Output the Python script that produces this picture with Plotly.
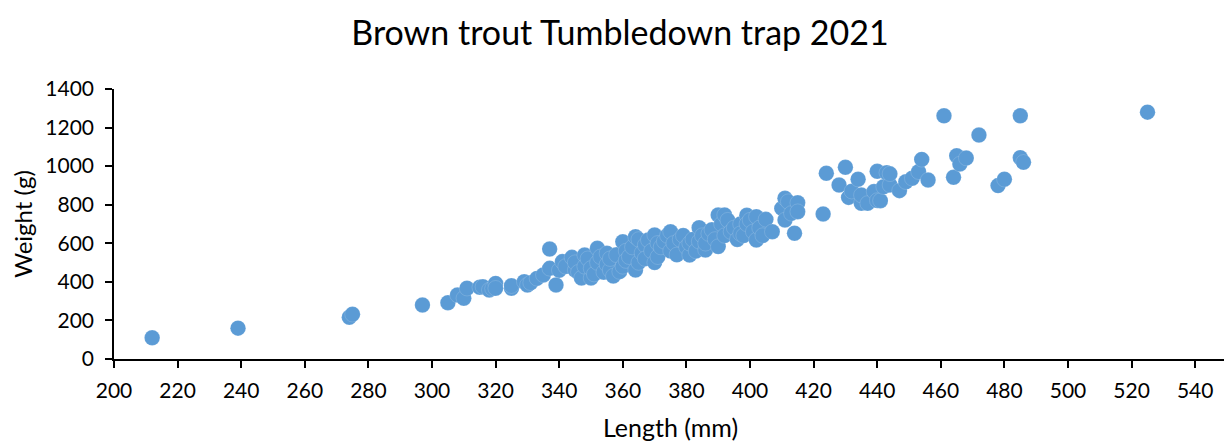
import plotly.graph_objects as go

length_mm = [
    212, 239, 274, 275, 297,
    305, 308, 310, 311, 315, 316, 318, 319, 320, 320, 325, 325, 329, 330, 331,
    333, 335, 337, 337, 339, 340, 341, 342, 344, 345, 345, 346, 347, 348, 348,
    349, 350, 350, 351, 352, 352, 353, 354, 355, 355, 356, 356, 357, 358, 359,
    360, 360, 361, 361, 362, 363, 364, 364, 365, 365, 366, 367, 367, 368, 369,
    370, 370, 371, 371, 372, 373, 374, 375, 375, 376, 377, 378, 379, 380, 381,
    381, 382, 383, 384, 384, 385, 386, 386, 387, 388, 389, 390, 390, 391, 392,
    392, 393, 394, 395, 396, 397, 397, 398, 399, 399, 400, 401, 402, 402, 403,
    404, 405, 407, 410, 411, 411, 412, 413, 414, 415, 415,
    423, 424, 428, 430, 431, 432, 434, 435, 435, 437, 439, 440, 440, 441, 442,
    443, 444, 444, 447, 449, 451, 453, 454, 456, 461, 464, 465, 466, 468, 472,
    478, 480, 485, 485, 486, 525,
]

weight_g = [
    110, 160, 216, 232, 280,
    292, 332, 315, 367, 372, 375, 358, 365, 392, 367, 367, 380, 401, 384, 395,
    418, 436, 570, 470, 384, 460, 505, 480, 527, 461, 500, 450, 420, 539, 480,
    520, 420, 470, 440, 574, 500, 530, 450, 548, 490, 461, 520, 430, 540, 453,
    608, 480, 560, 510, 530, 580, 634, 461, 620, 500, 550, 590, 520, 617, 560,
    643, 500, 600, 530, 580, 610, 640, 660, 560, 600, 540, 620, 640, 580, 539,
    600, 620, 560, 681, 610, 640, 565, 600, 650, 670, 620, 747, 583, 700, 747,
    640, 720, 660, 680, 620, 700, 650, 640, 745, 700, 720, 660, 738, 617, 680,
    640, 724, 660, 781, 833, 721, 816, 755, 652, 810, 764,
    752, 963, 902, 994, 838, 870, 932, 807, 850, 807, 868, 973, 822, 821, 893,
    966, 902, 960, 873, 919, 937, 971, 1035, 928, 1261, 942, 1054, 1011, 1042, 1161,
    899, 932, 1261, 1044, 1020, 1280,
]

x_ticks = list(range(200, 541, 20))
y_ticks = list(range(0, 1401, 200))

FONT = "Lato, 'Open Sans', sans-serif"

# the page body has an 8px default margin, so the figure is sized to fit inside it
W, H = 1224, 436

fig = go.Figure(
    go.Scatter(
        x=length_mm,
        y=weight_g,
        mode="markers",
        marker=dict(
            color="#5B9BD5",
            size=15.5,
            line=dict(color="rgba(255,255,255,0.3)", width=0.5),
        ),
        hoverinfo="x+y",
    )
)

fig.update_layout(
    width=W,
    height=H,
    margin=dict(l=106, r=5, t=81, b=85, autoexpand=False),
    paper_bgcolor="white",
    plot_bgcolor="white",
    showlegend=False,
    font=dict(family=FONT, color="black", size=16),
    title=dict(
        text="Brown trout Tumbledown trap 2021",
        x=0.5,
        xanchor="center",
        y=1 - 25 / H,
        yanchor="middle",
        font=dict(family=FONT, size=34, color="black"),
    ),
)

fig.update_xaxes(
    range=[200, 550],
    tickvals=x_ticks,
    ticktext=[str(v) for v in x_ticks],
    showgrid=False,
    zeroline=False,
    showline=True,
    linecolor="black",
    linewidth=1.5,
    ticks="outside",
    ticklen=7,
    tickwidth=1.5,
    tickcolor="black",
    tickfont=dict(size=21),
    ticklabelstandoff=5,
    automargin=False,
    title=dict(text="Length (mm)", font=dict(size=25), standoff=19),
)

fig.update_yaxes(
    range=[0, 1400],
    tickvals=y_ticks,
    ticktext=[str(v) for v in y_ticks],
    showgrid=False,
    zeroline=False,
    showline=True,
    linecolor="black",
    linewidth=1.5,
    ticks="outside",
    ticklen=7,
    tickwidth=1.5,
    tickcolor="black",
    tickfont=dict(size=21),
    ticklabelstandoff=7,
    automargin=False,
    title=dict(text="Weight (g)", font=dict(size=24), standoff=10),
)

fig.write_html("out.html")
